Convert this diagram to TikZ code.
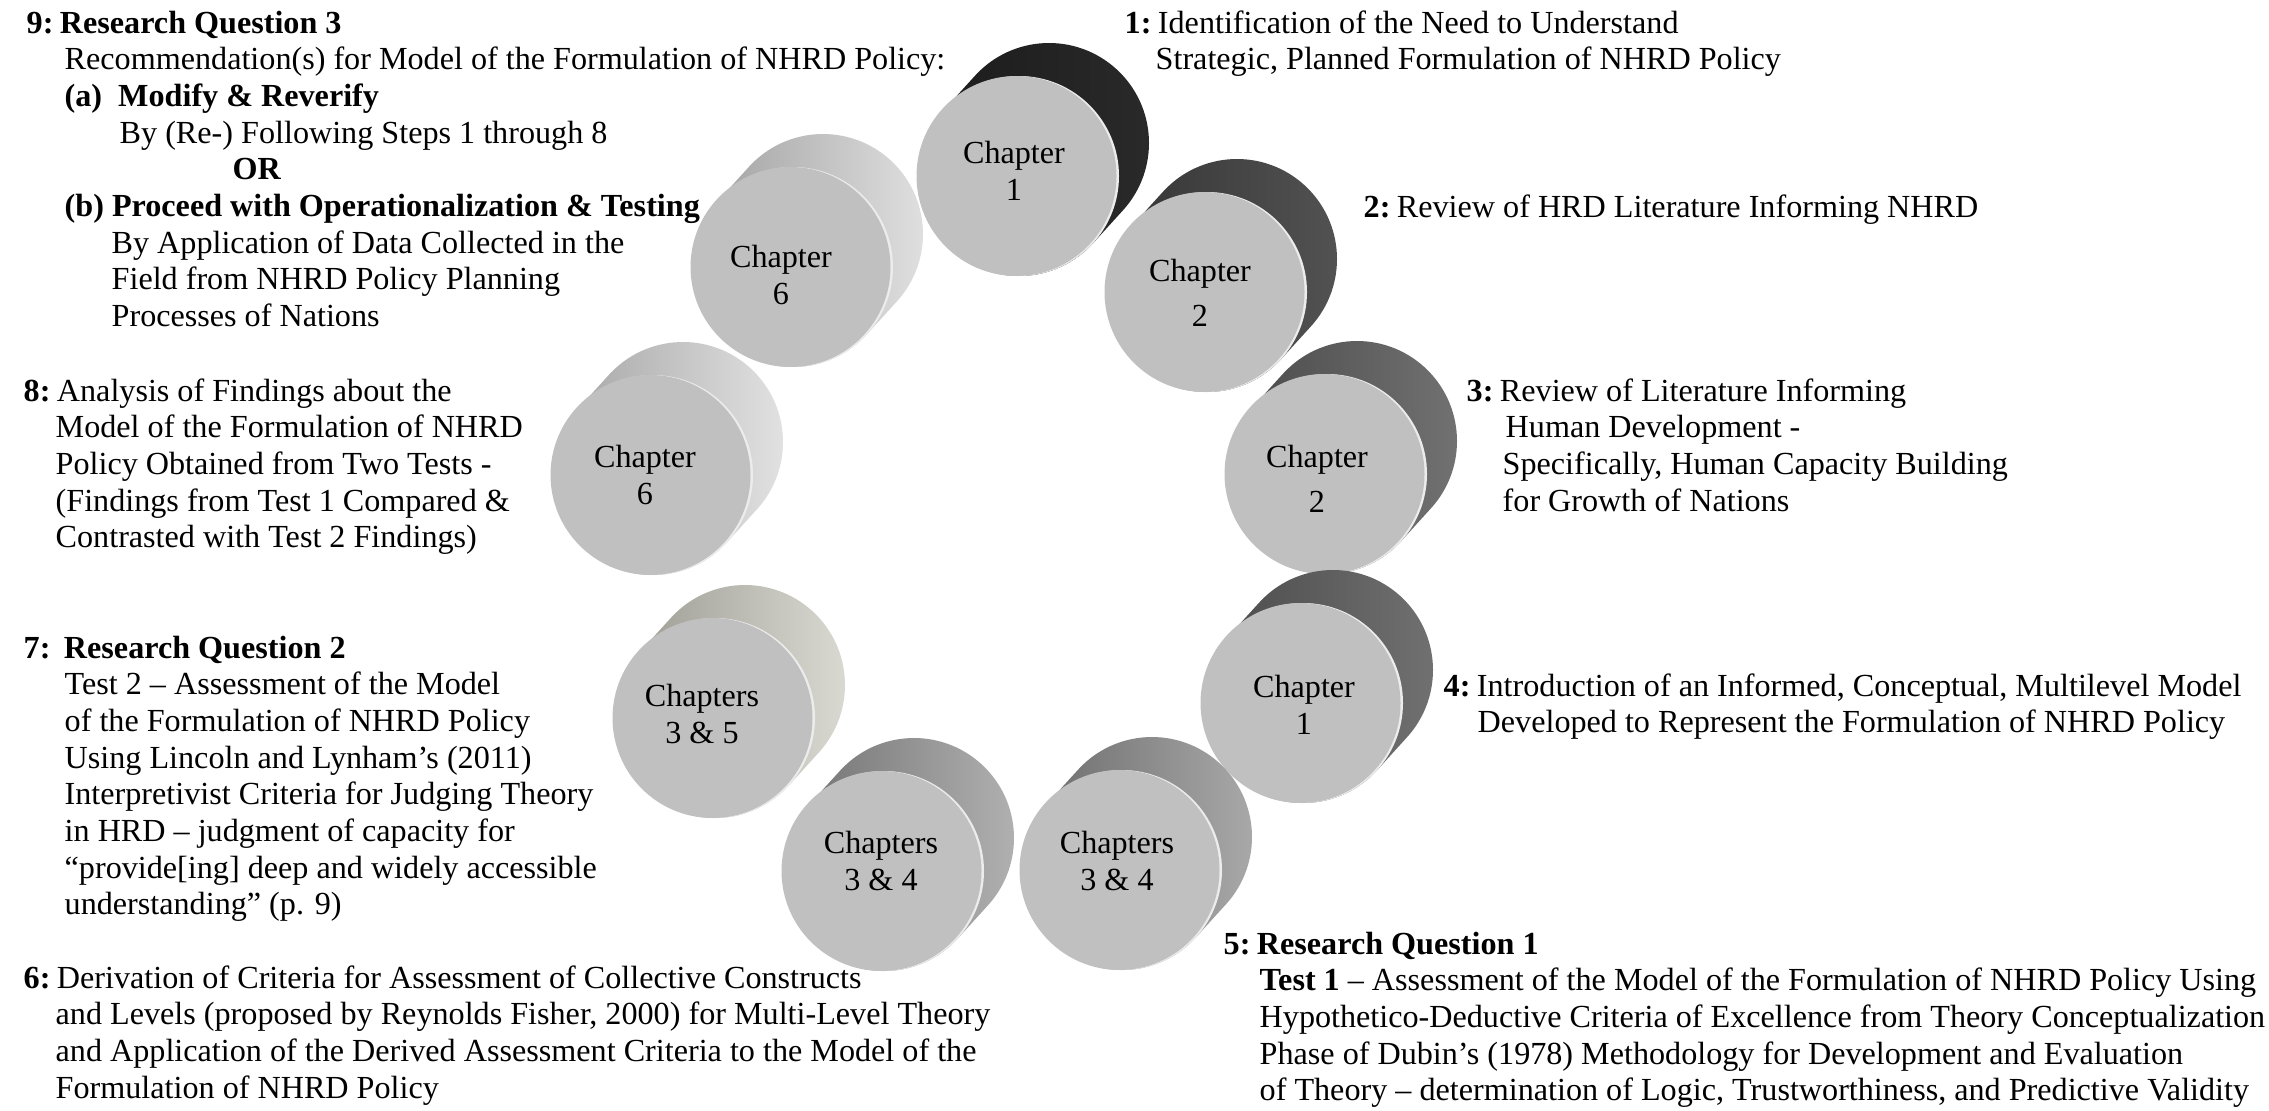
\documentclass[tikz,border=0pt]{standalone}
\usepackage{fontspec}
\setmainfont{Liberation Serif}
\usetikzlibrary{calc}

% face and rim tones shared by every drum
\definecolor{facegray}{HTML}{C0C0C0}
\definecolor{rimgray}{HTML}{ECECEC}
% side tones (dark end, light end) for each drum
\definecolor{sideAa}{HTML}{1A1A1A}\definecolor{sideAb}{HTML}{2A2A2A}
\definecolor{sideBa}{HTML}{333333}\definecolor{sideBb}{HTML}{535353}
\definecolor{sideCa}{HTML}{474747}\definecolor{sideCb}{HTML}{737373}
\definecolor{sideDa}{HTML}{484848}\definecolor{sideDb}{HTML}{727272}
\definecolor{sideEa}{HTML}{666666}\definecolor{sideEb}{HTML}{ABABAB}
\definecolor{sideFa}{HTML}{6C6C6C}\definecolor{sideFb}{HTML}{B3B3B3}
\definecolor{sideGa}{HTML}{96958C}\definecolor{sideGb}{HTML}{DCDCD5}
\definecolor{sideHa}{HTML}{A0A0A0}\definecolor{sideHb}{HTML}{E4E4E4}
\definecolor{sideIa}{HTML}{9B9B9B}\definecolor{sideIb}{HTML}{E2E2E2}

% step notes are placed by the baseline of their last line
\tikzset{
  stepnote/.style={font=\fontsize{9.15}{10.44}\selectfont, align=left,
    anchor=base west, inner sep=0pt},
  disclabel/.style={font=\fontsize{9.15}{10.4}\selectfont, align=center,
    inner sep=0pt},
  widelabel/.style={font=\fontsize{9.15}{12.8}\selectfont, align=center,
    inner sep=0pt},
}
\newcommand\numsep{\hspace{0.2em}}

% a drum seen at an angle: #1 label name, #2 front-face centre,
% #3/#4 dark/light side tones, #5 label style, #6 label position, #7 label
\newcommand\chapterdisc[7]{%
  \begin{scope}[shift={#2}]
    \shade[left color=#3, right color=#4]
      (-42.3:1) -- ++(0.30,0.33)
      arc[start angle=-42.3, end angle=137.7, radius=1]
      -- (137.7:1)
      arc[start angle=137.7, end angle=317.7, radius=1] -- cycle;
    \fill[rimgray] (0,0) circle[radius=1];
    \fill[facegray] (-0.025,0) circle[radius=1];
  \end{scope}
  \node[#5] (#1) at #6 {#7};
}

\begin{document}
\begin{tikzpicture}
\useasboundingbox (0,0) rectangle (22.69,11.10);

% the nine drums, clockwise from the top
\chapterdisc{ch1a}{(10.19,9.34)}{sideAa}{sideAb}{disclabel}{(10.14,9.39)}{Chapter\\1}
\chapterdisc{ch2a}{(12.07,8.18)}{sideBa}{sideBb}{widelabel}{(12.00,8.17)}{Chapter\\2}
\chapterdisc{ch2b}{(13.27,6.36)}{sideCa}{sideCb}{widelabel}{(13.17,6.31)}{Chapter\\2}
\chapterdisc{ch1b}{(13.03,4.07)}{sideDa}{sideDb}{disclabel}{(13.04,4.05)}{Chapter\\1}
\chapterdisc{ch34a}{(11.22,2.40)}{sideEa}{sideEb}{disclabel}{(11.17,2.49)}{Chapters\\3 \& 4}
\chapterdisc{ch34b}{(8.84,2.39)}{sideFa}{sideFb}{disclabel}{(8.81,2.49)}{Chapters\\3 \& 4}
\chapterdisc{ch35}{(7.15,3.92)}{sideGa}{sideGb}{disclabel}{(7.02,3.96)}{Chapters\\3 \& 5}
\chapterdisc{ch6a}{(6.53,6.35)}{sideHa}{sideHb}{disclabel}{(6.45,6.35)}{Chapter\\6}
\chapterdisc{ch6b}{(7.93,8.43)}{sideIa}{sideIb}{disclabel}{(7.81,8.35)}{Chapter\\6}

% step descriptions
\node[stepnote] (s1) at (11.24,10.403) {\textbf{1:}\numsep Identification of the Need to Understand\\
\hspace*{0.31cm}Strategic, Planned Formulation of NHRD Policy};

\node[stepnote] (s2) at (13.63,8.93) {\textbf{2:}\numsep Review of HRD Literature Informing NHRD};

\node[stepnote] (s3) at (14.66,5.989) {\textbf{3:}\numsep Review of Literature Informing\\
\hspace*{0.39cm}Human Development -\\
\hspace*{0.36cm}Specifically, Human Capacity Building\\
\hspace*{0.36cm}for Growth of Nations};

\node[stepnote] (s4) at (14.43,3.773) {\textbf{4:}\numsep Introduction of an Informed, Conceptual, Multilevel Model\\
\hspace*{0.34cm}Developed to Represent the Formulation of NHRD Policy};

\node[stepnote] (s5) at (12.23,0.092) {\textbf{5:\numsep Research Question 1}\\
\hspace*{0.36cm}\textbf{Test 1} – Assessment of the Model of the Formulation of NHRD Policy Using\\
\hspace*{0.36cm}Hypothetico-Deductive Criteria of Excellence from Theory Conceptualization\\
\hspace*{0.36cm}Phase of Dubin’s (1978) Methodology for Development and Evaluation\\
\hspace*{0.36cm}of Theory – determination of Logic, Trustworthiness, and Predictive Validity};

\node[stepnote] (s6) at (0.23,0.119) {\textbf{6:}\numsep Derivation of Criteria for Assessment of Collective Constructs\\
\hspace*{0.32cm}and Levels (proposed by Reynolds Fisher, 2000) for Multi-Level Theory\\
\hspace*{0.32cm}and Application of the Derived Assessment Criteria to the Model of the\\
\hspace*{0.32cm}Formulation of NHRD Policy};

\node[stepnote] (s7) at (0.23,1.951) {\textbf{7:\hspace{0.42em}Research Question 2}\\
\hspace*{0.41cm}Test 2 – Assessment of the Model\\
\hspace*{0.41cm}of the Formulation of NHRD Policy\\
\hspace*{0.41cm}Using Lincoln and Lynham’s (2011)\\
\hspace*{0.41cm}Interpretivist Criteria for Judging Theory\\
\hspace*{0.41cm}in HRD – judgment of capacity for\\
\hspace*{0.41cm}“provide[ing] deep and widely accessible\\
\hspace*{0.41cm}understanding” (p. 9)};

\node[stepnote] (s8) at (0.23,5.622) {\textbf{8:}\numsep Analysis of Findings about the\\
\hspace*{0.32cm}Model of the Formulation of NHRD\\
\hspace*{0.32cm}Policy Obtained from Two Tests -\\
\hspace*{0.32cm}(Findings from Test 1 Compared \&\\
\hspace*{0.32cm}Contrasted with Test 2 Findings)};

\node[stepnote] (s9) at (0.26,7.834) {\textbf{9:\numsep Research Question 3}\\
\hspace*{0.38cm}Recommendation(s) for Model of the Formulation of NHRD Policy:\\
\hspace*{0.38cm}\textbf{(a)\ \ Modify \& Reverify}\\
\hspace*{0.93cm}By (Re-) Following Steps 1 through 8\\
\hspace*{2.06cm}\textbf{OR}\\
\hspace*{0.38cm}\textbf{(b) Proceed with Operationalization \& Testing}\\
\hspace*{0.85cm}By Application of Data Collected in the\\
\hspace*{0.85cm}Field from NHRD Policy Planning\\
\hspace*{0.85cm}Processes of Nations};
\end{tikzpicture}
\end{document}
